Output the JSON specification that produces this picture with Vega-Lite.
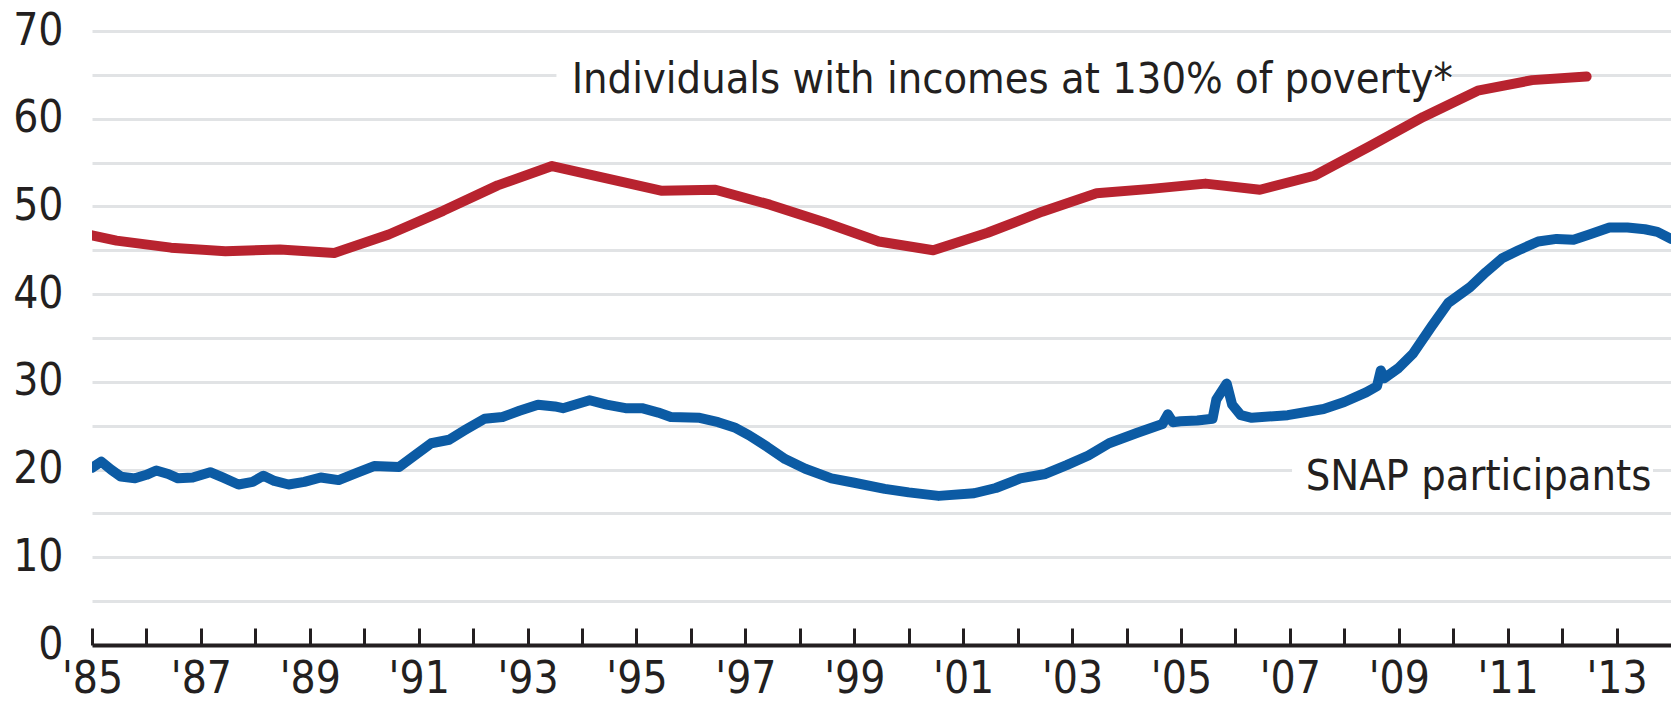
{
  "$schema": "https://vega.github.io/schema/vega-lite/v6.json",
  "width": 1579,
  "height": 614,
  "autosize": {"type": "none"},
  "padding": {"left": 92, "top": 31, "right": 0, "bottom": 69},
  "background": "white",
  "config": {
    "view": {"stroke": null},
    "font": "DejaVu Sans Condensed, DejaVu Sans, sans-serif"
  },
  "layer": [
    {
      "data": {"values": [{}]},
      "mark": {"type": "rect", "color": "white"},
      "encoding": {
        "x": {"datum": 1993.53, "type": "quantitative", "scale": {"domain": [1985, 2014], "nice": false, "zero": false}},
        "x2": {"datum": 2009.97},
        "y": {"datum": 61.2, "type": "quantitative", "scale": {"domain": [0, 70], "nice": false}},
        "y2": {"datum": 68.6}
      }
    },
    {
      "data": {"values": [{}]},
      "mark": {"type": "rect", "color": "white"},
      "encoding": {
        "x": {"datum": 2007.04, "type": "quantitative", "scale": {"domain": [1985, 2014], "nice": false, "zero": false}},
        "x2": {"datum": 2013.67},
        "y": {"datum": 16.0, "type": "quantitative", "scale": {"domain": [0, 70], "nice": false}},
        "y2": {"datum": 23.3}
      }
    },
    {
      "data": {
        "values": [
          {"series": "poverty", "year": 1985.0, "value": 46.7},
          {"series": "poverty", "year": 1985.45, "value": 46.1},
          {"series": "poverty", "year": 1986.45, "value": 45.3},
          {"series": "poverty", "year": 1987.45, "value": 44.9},
          {"series": "poverty", "year": 1988.45, "value": 45.1},
          {"series": "poverty", "year": 1989.45, "value": 44.7},
          {"series": "poverty", "year": 1990.45, "value": 46.8},
          {"series": "poverty", "year": 1991.45, "value": 49.5},
          {"series": "poverty", "year": 1992.45, "value": 52.4},
          {"series": "poverty", "year": 1993.45, "value": 54.6},
          {"series": "poverty", "year": 1994.45, "value": 53.2},
          {"series": "poverty", "year": 1995.45, "value": 51.8},
          {"series": "poverty", "year": 1996.45, "value": 51.9},
          {"series": "poverty", "year": 1997.45, "value": 50.2},
          {"series": "poverty", "year": 1998.45, "value": 48.2},
          {"series": "poverty", "year": 1999.45, "value": 46.0},
          {"series": "poverty", "year": 2000.45, "value": 45.0},
          {"series": "poverty", "year": 2001.45, "value": 47.0},
          {"series": "poverty", "year": 2002.45, "value": 49.4},
          {"series": "poverty", "year": 2003.45, "value": 51.5},
          {"series": "poverty", "year": 2004.45, "value": 52.0},
          {"series": "poverty", "year": 2005.45, "value": 52.6},
          {"series": "poverty", "year": 2006.45, "value": 51.9},
          {"series": "poverty", "year": 2007.45, "value": 53.5},
          {"series": "poverty", "year": 2008.45, "value": 56.8},
          {"series": "poverty", "year": 2009.45, "value": 60.2},
          {"series": "poverty", "year": 2010.45, "value": 63.2},
          {"series": "poverty", "year": 2011.45, "value": 64.4},
          {"series": "poverty", "year": 2012.45, "value": 64.8},
          {"series": "snap", "year": 1985.0, "value": 20.2},
          {"series": "snap", "year": 1985.17, "value": 20.9},
          {"series": "snap", "year": 1985.35, "value": 20.0},
          {"series": "snap", "year": 1985.53, "value": 19.2},
          {"series": "snap", "year": 1985.79, "value": 19.0},
          {"series": "snap", "year": 1986.0, "value": 19.4},
          {"series": "snap", "year": 1986.18, "value": 19.9},
          {"series": "snap", "year": 1986.4, "value": 19.5},
          {"series": "snap", "year": 1986.58, "value": 19.0},
          {"series": "snap", "year": 1986.85, "value": 19.1},
          {"series": "snap", "year": 1987.17, "value": 19.7},
          {"series": "snap", "year": 1987.4, "value": 19.1},
          {"series": "snap", "year": 1987.69, "value": 18.3},
          {"series": "snap", "year": 1987.95, "value": 18.6},
          {"series": "snap", "year": 1988.15, "value": 19.3},
          {"series": "snap", "year": 1988.35, "value": 18.7},
          {"series": "snap", "year": 1988.61, "value": 18.3},
          {"series": "snap", "year": 1988.9, "value": 18.6},
          {"series": "snap", "year": 1989.2, "value": 19.1},
          {"series": "snap", "year": 1989.53, "value": 18.8},
          {"series": "snap", "year": 1989.85, "value": 19.6},
          {"series": "snap", "year": 1990.18, "value": 20.4},
          {"series": "snap", "year": 1990.64, "value": 20.3},
          {"series": "snap", "year": 1990.9, "value": 21.5},
          {"series": "snap", "year": 1991.23, "value": 23.0},
          {"series": "snap", "year": 1991.56, "value": 23.4},
          {"series": "snap", "year": 1991.85, "value": 24.5},
          {"series": "snap", "year": 1992.21, "value": 25.8},
          {"series": "snap", "year": 1992.54, "value": 26.0},
          {"series": "snap", "year": 1992.85, "value": 26.7},
          {"series": "snap", "year": 1993.19, "value": 27.4},
          {"series": "snap", "year": 1993.5, "value": 27.2},
          {"series": "snap", "year": 1993.65, "value": 27.0},
          {"series": "snap", "year": 1994.14, "value": 27.9},
          {"series": "snap", "year": 1994.45, "value": 27.4},
          {"series": "snap", "year": 1994.8, "value": 27.0},
          {"series": "snap", "year": 1995.1, "value": 27.0},
          {"series": "snap", "year": 1995.4, "value": 26.5},
          {"series": "snap", "year": 1995.63, "value": 26.0},
          {"series": "snap", "year": 1996.16, "value": 25.9},
          {"series": "snap", "year": 1996.5, "value": 25.4},
          {"series": "snap", "year": 1996.8, "value": 24.8},
          {"series": "snap", "year": 1997.07, "value": 23.9},
          {"series": "snap", "year": 1997.4, "value": 22.6},
          {"series": "snap", "year": 1997.73, "value": 21.2},
          {"series": "snap", "year": 1998.1, "value": 20.1},
          {"series": "snap", "year": 1998.58, "value": 19.0},
          {"series": "snap", "year": 1999.0, "value": 18.5},
          {"series": "snap", "year": 1999.56, "value": 17.8},
          {"series": "snap", "year": 2000.0, "value": 17.4},
          {"series": "snap", "year": 2000.55, "value": 17.0},
          {"series": "snap", "year": 2001.2, "value": 17.3},
          {"series": "snap", "year": 2001.6, "value": 17.9},
          {"series": "snap", "year": 2002.05, "value": 19.0},
          {"series": "snap", "year": 2002.51, "value": 19.5},
          {"series": "snap", "year": 2002.9, "value": 20.5},
          {"series": "snap", "year": 2003.3, "value": 21.6},
          {"series": "snap", "year": 2003.68, "value": 23.0},
          {"series": "snap", "year": 2004.2, "value": 24.2},
          {"series": "snap", "year": 2004.66, "value": 25.2},
          {"series": "snap", "year": 2004.76, "value": 26.3},
          {"series": "snap", "year": 2004.85, "value": 25.4},
          {"series": "snap", "year": 2004.99, "value": 25.5},
          {"series": "snap", "year": 2005.3, "value": 25.6},
          {"series": "snap", "year": 2005.58, "value": 25.8},
          {"series": "snap", "year": 2005.65, "value": 28.0},
          {"series": "snap", "year": 2005.84, "value": 29.8},
          {"series": "snap", "year": 2005.94, "value": 27.4},
          {"series": "snap", "year": 2006.1, "value": 26.2},
          {"series": "snap", "year": 2006.3, "value": 25.9},
          {"series": "snap", "year": 2006.96, "value": 26.2},
          {"series": "snap", "year": 2007.62, "value": 26.9},
          {"series": "snap", "year": 2008.0, "value": 27.7},
          {"series": "snap", "year": 2008.4, "value": 28.8},
          {"series": "snap", "year": 2008.6, "value": 29.5},
          {"series": "snap", "year": 2008.67, "value": 31.3},
          {"series": "snap", "year": 2008.73, "value": 30.4},
          {"series": "snap", "year": 2009.0, "value": 31.6},
          {"series": "snap", "year": 2009.26, "value": 33.2},
          {"series": "snap", "year": 2009.6, "value": 36.3},
          {"series": "snap", "year": 2009.91, "value": 39.0},
          {"series": "snap", "year": 2010.31, "value": 40.8},
          {"series": "snap", "year": 2010.6, "value": 42.5},
          {"series": "snap", "year": 2010.9, "value": 44.1},
          {"series": "snap", "year": 2011.2, "value": 45.0},
          {"series": "snap", "year": 2011.56, "value": 46.0},
          {"series": "snap", "year": 2011.9, "value": 46.3},
          {"series": "snap", "year": 2012.21, "value": 46.2},
          {"series": "snap", "year": 2012.5, "value": 46.8},
          {"series": "snap", "year": 2012.87, "value": 47.6},
          {"series": "snap", "year": 2013.2, "value": 47.6},
          {"series": "snap", "year": 2013.52, "value": 47.4},
          {"series": "snap", "year": 2013.75, "value": 47.1},
          {"series": "snap", "year": 2014.0, "value": 46.3}
        ]
      },
      "mark": {"type": "line", "strokeWidth": 10, "strokeCap": "round", "strokeJoin": "round", "clip": true},
      "encoding": {
        "x": {
          "field": "year", "type": "quantitative",
          "scale": {"domain": [1985, 2014], "nice": false, "zero": false},
          "axis": {
            "title": null,
            "values": [1985,1986,1987,1988,1989,1990,1991,1992,1993,1994,1995,1996,1997,1998,1999,2000,2001,2002,2003,2004,2005,2006,2007,2008,2009,2010,2011,2012,2013],
            "labelExpr": "datum.value % 2 == 1 ? \"'\" + slice(toString(datum.value), 2) : ''",
            "grid": false,
            "domainColor": "#231f20",
            "domainWidth": 4,
            "tickColor": "#231f20",
            "tickWidth": 3,
            "tickSize": -17,
            "labelFontSize": 44,
            "labelColor": "#231f20",
            "labelFont": "DejaVu Sans Condensed, DejaVu Sans, sans-serif",
            "labelBaseline": "alphabetic",
            "labelPadding": 64,
            "labelFlush": false,
            "labelOverlap": false
          }
        },
        "y": {
          "field": "value", "type": "quantitative",
          "scale": {"domain": [0, 70], "nice": false},
          "axis": {
            "title": null,
            "values": [0,5,10,15,20,25,30,35,40,45,50,55,60,65,70],
            "labelExpr": "datum.value % 10 == 0 ? datum.label : ''",
            "domain": false,
            "ticks": false,
            "grid": true,
            "gridColor": "#e1e3e5",
            "gridWidth": 3,
            "gridOpacity": 1,
            "labelFontSize": 44,
            "labelColor": "#231f20",
            "labelFont": "DejaVu Sans Condensed, DejaVu Sans, sans-serif",
            "labelPadding": 29,
            "labelFlush": false,
            "labelOverlap": false
          }
        },
        "color": {
          "field": "series", "type": "nominal",
          "scale": {"domain": ["poverty", "snap"], "range": ["#b8232f", "#0c5ba4"]},
          "legend": null
        },
        "detail": {"field": "series"}
      }
    },
    {
      "data": {"values": [{}]},
      "mark": {"type": "text", "align": "left", "baseline": "alphabetic", "fontSize": 43, "color": "#231f20", "font": "DejaVu Sans Condensed, DejaVu Sans, sans-serif"},
      "encoding": {
        "x": {"datum": 1993.81, "type": "quantitative", "scale": {"domain": [1985, 2014], "nice": false, "zero": false}},
        "y": {"datum": 62.94, "type": "quantitative", "scale": {"domain": [0, 70], "nice": false}},
        "text": {"value": "Individuals with incomes at 130% of poverty*"}
      }
    },
    {
      "data": {"values": [{}]},
      "mark": {"type": "text", "align": "left", "baseline": "alphabetic", "fontSize": 43, "color": "#231f20", "font": "DejaVu Sans Condensed, DejaVu Sans, sans-serif"},
      "encoding": {
        "x": {"datum": 2007.29, "type": "quantitative", "scale": {"domain": [1985, 2014], "nice": false, "zero": false}},
        "y": {"datum": 17.67, "type": "quantitative", "scale": {"domain": [0, 70], "nice": false}},
        "text": {"value": "SNAP participants"}
      }
    }
  ]
}
